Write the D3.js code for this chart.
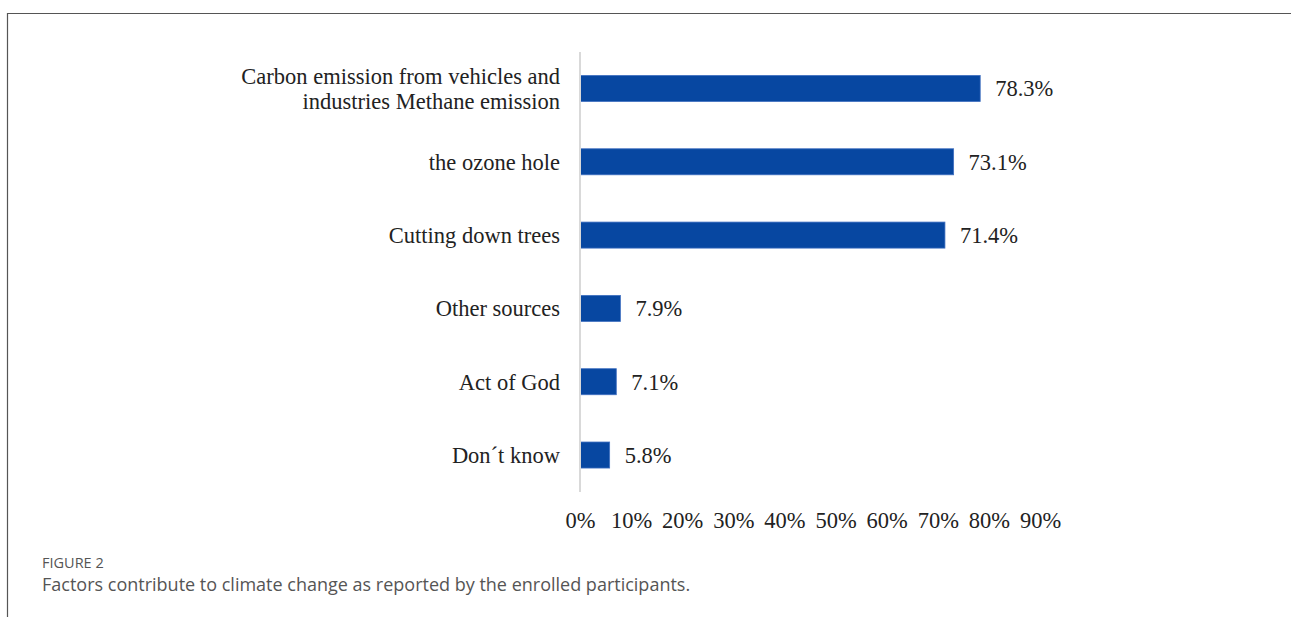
<!DOCTYPE html>
<html><head><meta charset="utf-8">
<script src="https://cdn.jsdelivr.net/npm/d3@7"></script>
<style>
html,body{margin:0;padding:0;background:#fff;}
svg{display:block;}
</style></head>
<body>
<script>
const categories = [
  ["Carbon emission from vehicles and", "industries Methane emission"],
  ["the ozone hole"],
  ["Cutting down trees"],
  ["Other sources"],
  ["Act of God"],
  ["Don´t know"]
];
const values = [78.3, 73.1, 71.4, 7.9, 7.1, 5.8];
const tickValues = [0, 10, 20, 30, 40, 50, 60, 70, 80, 90];
const figureLabel = "FIGURE 2";
const captionText = "Factors contribute to climate change as reported by the enrolled participants.";

const W = 1291, H = 617;
const svg = d3.select("body").append("svg").attr("width", W).attr("height", H);

// frame
svg.append("path")
  .attr("d", `M7.5,${H} V13.5 H${W}`)
  .attr("fill", "none").attr("stroke", "#555").attr("stroke-width", 1.2);

const x0 = 580;
const x = d3.scaleLinear().domain([0, 90]).range([x0, 1040]);
const ids = categories.map((c, i) => i);
const y = d3.scaleBand().domain(ids).range([52, 491.5]).paddingInner(0.645).paddingOuter(0.32);

const serif = "'Liberation Serif', 'DejaVu Serif', serif";
const fs = 22.5;

// bars
svg.append("g").selectAll("rect").data(values).join("rect")
  .attr("x", x(0))
  .attr("y", (d, i) => y(i))
  .attr("width", d => x(d) - x(0))
  .attr("height", y.bandwidth())
  .attr("fill", "#0747a1")
  .attr("stroke", "#3f6fc0").attr("stroke-width", 0.8);

// axis line
svg.append("line")
  .attr("x1", x0).attr("x2", x0).attr("y1", 52).attr("y2", 492)
  .attr("stroke", "#d9d9d9").attr("stroke-width", 2);

// value labels
svg.append("g").selectAll("text").data(values).join("text")
  .attr("x", d => x(d) + 15)
  .attr("y", (d, i) => y(i) + y.bandwidth() / 2)
  .attr("dy", "0.35em")
  .attr("font-family", serif).attr("font-size", fs).attr("fill", "#222")
  .text(d => d.toFixed(1) + "%");

// category labels
const cat = svg.append("g").selectAll("text").data(categories).join("text")
  .attr("text-anchor", "end")
  .attr("font-family", serif).attr("font-size", fs).attr("fill", "#222")
  .attr("x", 560)
  .attr("y", (d, i) => y(i) + y.bandwidth() / 2);
cat.each(function(lines) {
  const t = d3.select(this);
  const n = lines.length;
  lines.forEach((l, j) => {
    t.append("tspan").attr("x", 560)
      .attr("dy", j === 0 ? ((0.35 - (n - 1) * 0.56) + "em") : "1.12em")
      .text(l);
  });
});

// x axis tick labels
const axis = d3.axisBottom(x).tickValues(tickValues).tickFormat(d => d + "%").tickSize(0).tickPadding(0);
const ax = svg.append("g").attr("transform", "translate(0,520)").call(axis);
ax.select(".domain").remove();
ax.selectAll("text").attr("font-family", serif).attr("font-size", fs).attr("fill", "#222").attr("dy", "0.35em");

// caption
svg.append("text").attr("x", 42).attr("y", 568)
  .attr("font-family", "'Open Sans', 'Noto Sans', sans-serif").attr("font-size", 14.5).attr("fill", "#555")
  .text(figureLabel);
svg.append("text").attr("x", 42).attr("y", 591)
  .attr("font-family", "'Open Sans', 'Noto Sans', sans-serif").attr("font-size", 18).attr("fill", "#555")
  .text(captionText);
</script>
</body></html>
